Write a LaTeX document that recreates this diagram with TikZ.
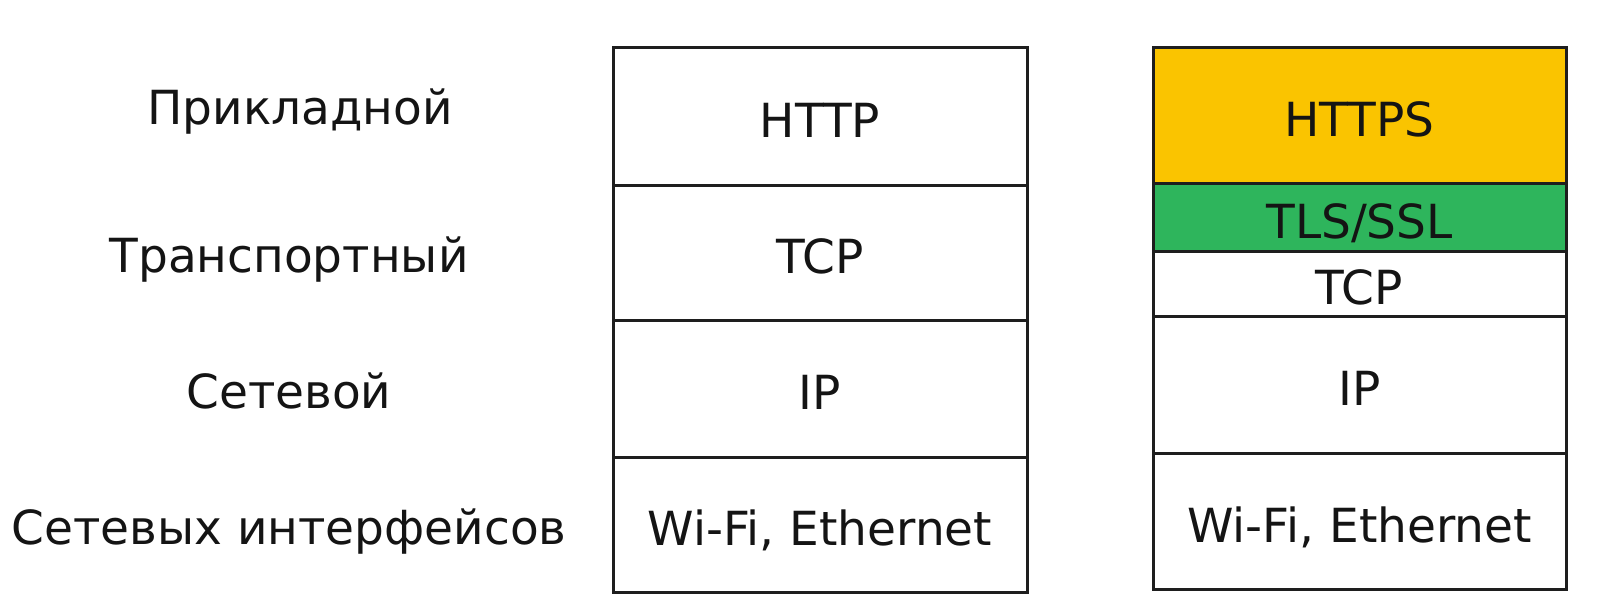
\documentclass[tikz,border=0pt]{standalone}
\usepackage{fontspec}
\setmainfont{DejaVu Sans}
\definecolor{httpsY}{RGB}{250,196,0}
\definecolor{tlsG}{RGB}{46,181,92}
\definecolor{edge}{RGB}{30,30,30}
\tikzset{
  txt/.style={font=\fontsize{23.5}{28}\selectfont, text=black!92, text height=17.1pt, text depth=0pt, inner sep=0pt},
  row/.style={txt, text height=20.1pt, draw=edge, line width=1.5pt, minimum width=#1*0.5pt},
  rowL/.style={row=414},
  rowR/.style={row=413},
  hgt/.style={minimum height=#1*0.5pt},
}
\begin{document}
\begin{tikzpicture}[x=0.5pt,y=-0.5pt]
\useasboundingbox (0,0) rectangle (1614,614);
% layer names
\node[txt] (n1) at (300,107) {Прикладной};
\node[txt] (n2) at (289,255) {Транспортный};
\node[txt] (n3) at (289,391) {Сетевой};
\node[txt] (n4) at (289,527) {Сетевых интерфейсов};
% left stack
\node[rowL,hgt=138] (l1) at (820,117) {HTTP};
\node[rowL,hgt=135] (l2) at (820,253.5) {TCP};
\node[rowL,hgt=137] (l3) at (820,389.5) {IP};
\node[rowL,hgt=135] (l4) at (820,525.5) {Wi-Fi, Ethernet};
% right stack
\node[rowR,hgt=136,fill=httpsY] (r1) at (1359.5,116) {HTTPS};
\node[rowR,hgt=68,fill=tlsG] (r2) at (1359.5,218) {TLS/SSL};
\node[rowR,hgt=65] (r3) at (1359.5,284.5) {TCP};
\node[rowR,hgt=137] (r4) at (1359.5,385.5) {IP};
\node[rowR,hgt=136] (r5) at (1359.5,522) {Wi-Fi, Ethernet};
\end{tikzpicture}
\end{document}
